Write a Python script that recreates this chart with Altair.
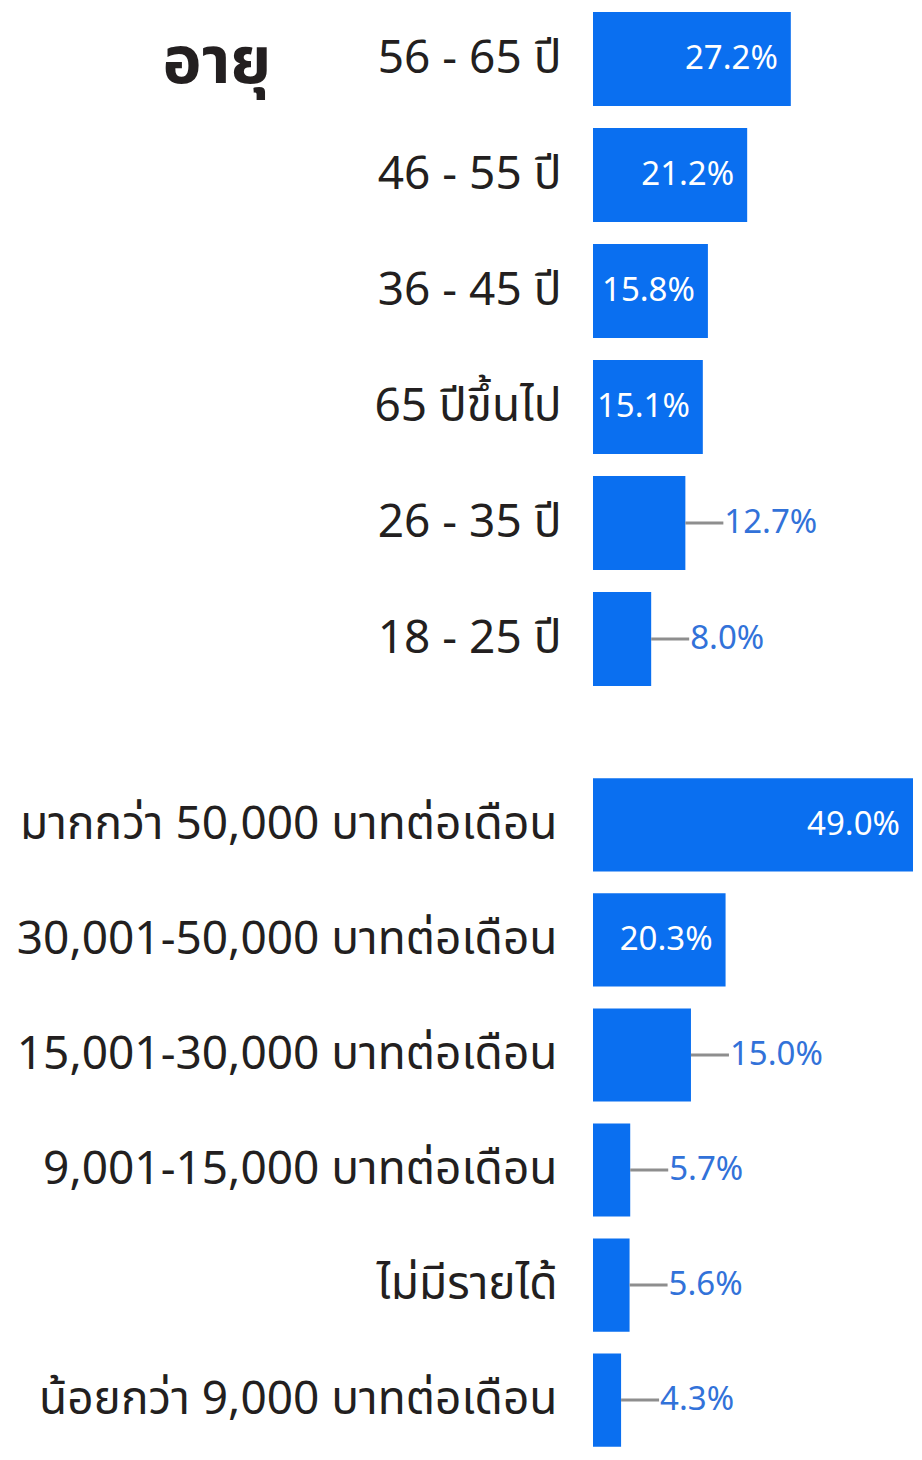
import altair as alt
import pandas as pd

# ---- data ----
age_labels = ["56 - 65 ปี", "46 - 55 ปี", "36 - 45 ปี", "65 ปีขึ้นไป", "26 - 35 ปี", "18 - 25 ปี"]
age_values = [27.2, 21.2, 15.8, 15.1, 12.7, 8.0]

income_labels = [
    "มากกว่า 50,000 บาทต่อเดือน",
    "30,001-50,000 บาทต่อเดือน",
    "15,001-30,000 บาทต่อเดือน",
    "9,001-15,000 บาทต่อเดือน",
    "ไม่มีรายได้",
    "น้อยกว่า 9,000 บาทต่อเดือน",
]
income_values = [49.0, 20.3, 15.0, 5.7, 5.6, 4.3]

title_text = "อายุ"

BAR = "#0A6FF0"
OUT_TXT = "#3272D9"
LEADER = "#8E8E8E"
DARK = "#231F20"
LABEL_FONT = "Noto Sans Thai, Noto Sans, DejaVu Sans, sans-serif"
VALUE_FONT = "Noto Sans, Open Sans, sans-serif"
W = 320


def panel(labels, values, xmax, height, pad_inner, pad_outer, label_pad, title=None):
    df = pd.DataFrame({"label": labels, "v": values})
    ppu = W / xmax
    common = dict(
        labelFont=LABEL_FONT, labelFontSize=46, labelColor=DARK,
        labelPadding=label_pad, ticks=False, domain=False, grid=False, labelLimit=700,
    )
    if title:
        yaxis = alt.Axis(
            title=title, titleAngle=0, titleAlign="left", titleBaseline="alphabetic",
            titleX=-431, titleY=74, titleFontSize=66, titleFontWeight="bold",
            titleColor=DARK, titleFont=LABEL_FONT, **common,
        )
    else:
        yaxis = alt.Axis(title=None, **common)
    y = alt.Y("label:N", sort=labels, axis=yaxis,
              scale=alt.Scale(paddingInner=pad_inner, paddingOuter=pad_outer))
    x = alt.X("v:Q", axis=None, scale=alt.Scale(domain=[0, xmax], nice=False, zero=True))
    ys = alt.Y("label:N", sort=labels)

    base = alt.Chart(df).transform_calculate(
        px=f"datum.v * {ppu}",
        txt="format(datum.v, '.1f') + '%'",
    )

    bars = base.mark_bar(color=BAR, clip=True).encode(x=x, y=y)

    inside = base.transform_filter("datum.px >= 105").mark_text(
        align="right", baseline="middle", dx=-13, color="white",
        font=VALUE_FONT, fontSize=33,
    ).encode(x=x, y=ys, text="txt:N")

    outs = base.transform_filter("datum.px < 105")
    leader = outs.transform_calculate(e=f"datum.v + {38 / ppu}").mark_rule(
        color=LEADER, strokeWidth=3
    ).encode(x=x, x2="e:Q", y=alt.Y("label:N", sort=labels, bandPosition=0.5))

    outside = outs.mark_text(
        align="left", baseline="middle", dx=39, color=OUT_TXT,
        font=VALUE_FONT, fontSize=33,
    ).encode(x=x, y=ys, text="txt:N")

    return alt.layer(bars, leader, inside, outside).properties(width=W, height=height)


p1 = panel(age_labels, age_values, 44, 682, 0.19, 0.0345, 32, title=title_text)
p2 = panel(income_labels, income_values, 49, 673, 0.19, 0.02, 36)

chart = alt.vconcat(p1, p2, spacing=86).properties(
    padding={"left": 8, "top": 0, "right": 0, "bottom": 0},
    background="white",
).configure_view(stroke=None)

chart.save("out.html", embed_options={"renderer": "svg", "actions": False})
